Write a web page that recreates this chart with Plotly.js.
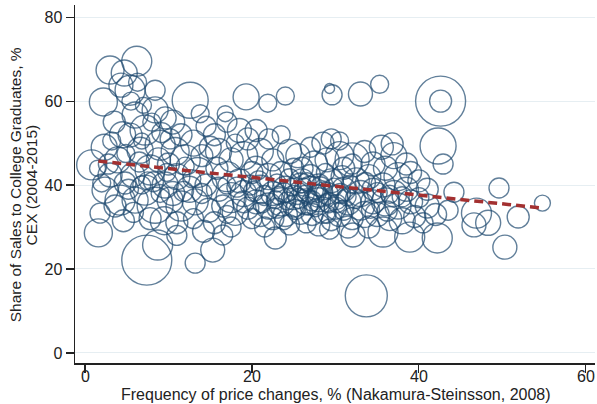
<!DOCTYPE html>
<html><head><meta charset="utf-8">
<script src="https://cdn.plot.ly/plotly-3.0.1.min.js"></script>
<style>html,body{margin:0;padding:0;background:#fff}#chart{width:597px;height:404px}</style>
</head><body><div id="chart"></div>
<script>
// Frequency of price changes (%), share of sales to college graduates (%), weight (marker diameter, px)
const freq = [
0.8,2.3,2.4,3,4.2,1.8,3.9,4.8,1.6,3.0,4.7,4.3,2.2,3.5,4.5,2.8,4.9,3.6,2.0,4.6,3.2,1.5,
6.2,5.4,8.4,6.0,7.2,5.4,8.4,9.6,6.6,9,7.8,5.7,7.2,9.6,6,8.4,10.2,7.4,8.7,5.5,7,9.2,6.5,8.8,5.8,9.5,7.5,6.8,8,10,5.2,9.8,7.8,6.3,
12.6,10.5,11.5,13,14.5,10.8,12,14,11,13.5,12.5,10.5,14.5,11.5,13.2,14.8,11,13,11,13.2,14.2,12,10.2,13.8,15,
15.3,16.5,15.5,17,18.5,19.5,16,17.5,19,15.8,17,18.5,20,16,17.5,19,16.5,18,19.5,15.5,17.5,19.3,18,16.8,19.8,
21.9,24,20.5,22,23.5,21,22.5,24.5,20.5,22,23.5,25,21,22.5,24,20.5,22,23.5,25,21,22.5,24,22.8,21.5,24.5,20.8,23,24.5,25,23.2,
25.5,27,28.5,29.5,26,27.5,29,26,27,28,29.5,25.5,26.5,28,29,30,25.8,27.2,28.5,30,26.5,28,29.5,27,28.8,26.2,27.8,29.3,29.6,29.3,
30.5,32,32,31,33.5,34.5,30.8,32.5,34,31,33,34.5,31.5,33,34.5,30.5,32,33.5,35,31.5,32.1,34,33,35.3,33.7,30.5,
35.5,37,38.5,36,37.5,39,35.7,37,38.5,40,36,37.5,39,36.5,38,39.5,35.7,38.9,36.8,40,
42.6,42.6,42.3,42.9,44.2,49.6,54.8,46.9,46.6,48.3,51.9,50.3,42.2,41,42,43.5,41,40.5,
21.5,22.8,23.8,24.8,25.6,26.4,27.2,27.9,28.6,29.2,26.8,25.2,27.6,28.2,26.6,24.2,23,25.8,29.8,30.6,31.4,32.4,31.8,33.6,30.2,21.2,20.2,19,18.2,17,14,12.8,11.8,9,8.2,6.8,36.5,38,35,34.2,36.2,31,29,23.8,20,17
];
const share = [
44.8,49,38.8,42.4,36.4,33.3,46,40.5,28.6,67.4,66.7,63.8,59.8,55,52,45,47.5,35,40.5,31.5,50.5,44,
69.5,62.6,62.6,56.7,53.1,51.9,57.9,56,48.3,49.5,43.6,42.4,38.8,40,36.4,35.2,36.4,22.1,25.7,60,59,52.5,45.5,46,33.5,31.5,41,50.5,55,45,39,43,32,64.5,
60.2,55,52,50,54,48,46,47,42,43,39,38,40,35,36,34,31,32,28,21.4,29,44.5,51,57,49,
24.5,28.1,52,55,53,51,48,46,47,44,42,41,43,39,37,38,35,33.5,34.5,31,30,61,50,57,40,
59.5,61.2,53,51,52,48,46,48,44,42,43,44,39,38,39,36,35,36,37,33,32,33,27.4,30,30.5,41,40.5,41.5,35,37.5,
47,49,50,51,44,45,46,41,39,40,41,38,36,36.5,38,37,33.5,33,34,34.5,31,30.5,31.5,42.5,43,39.5,38,29.5,61.5,63,
47,46,45,44,48,45,42,41,42,39,38,39,36,35,36,33,32,33,33,30,28.1,30,61.7,64,13.6,50.5,
49,47,45,44,42,43,40,38,39,41,36,35,36,32,31.5,32.5,28.8,27.6,49.8,37,
60,60,49.3,45,38.3,39.3,35.7,33.3,30.5,31,32.4,25.2,27.4,35,33,34,39,31,
37.5,36.5,38.2,39.5,36.8,37.8,36.2,37.4,38.6,35.8,35,34.2,34.6,39.6,40.8,36.2,34.5,40.5,39.5,38,37.2,36.8,40.2,40.6,35.6,35.5,38.5,36,39.5,40,38,41.5,38.5,38,40.8,40,37.8,37.2,38.2,34.2,33.8,34,33,31.5,32,33
];
const weight = [
30,26,26,24,30,20,26,22,28,28,26,24,28,22,26,20,18,22,18,22,18,16,
30,30,20,26,30,24,26,22,26,30,30,24,30,26,26,36,26,50,30,18,16,20,20,24,20,28,18,16,18,22,20,18,22,18,
36,24,22,26,20,28,30,22,26,30,26,24,22,30,26,24,22,20,20,20,22,18,20,18,22,
24,20,22,20,24,22,26,24,28,22,30,24,22,24,30,26,22,26,22,22,20,26,18,16,20,
18,18,22,20,18,26,22,24,24,26,22,20,28,24,26,24,26,28,24,24,22,24,22,20,20,20,18,20,22,18,
24,20,22,20,22,26,24,24,26,22,24,22,26,24,22,24,24,22,26,22,20,22,20,20,18,18,18,20,20,10,
28,34,20,22,22,24,22,26,24,24,26,22,26,28,24,24,22,26,24,22,24,22,24,18,42,18,
24,26,22,24,28,22,24,26,24,22,28,26,24,24,26,22,30,30,22,20,
50,22,36,20,20,20,16,30,24,25,22,24,30,24,22,20,22,20,
20,18,20,18,20,18,20,22,18,20,18,20,18,20,18,18,20,20,18,20,18,20,18,20,18,18,20,22,20,18,20,18,20,18,20,18,18,20,20,18,20,20,18,18,20,18
];
// Linear fit
const fitX = [1.6, 54.8];
const fitY = [45.7, 34.5];

const xTicks = [0, 20, 40, 60];
const yTicks = [0, 20, 40, 60, 80];
const xTitle = 'Frequency of price changes, % (Nakamura-Steinsson, 2008)';
const yTitle1 = 'Share of Sales to College Graduates, %';
const yTitle2 = 'CEX (2004-2015)';

const navy = '#1f4a70';
const traces = [
  {
    type: 'scatter', mode: 'markers', x: freq, y: share,
    marker: { size: weight, sizemode: 'diameter', sizeref: 1,
      color: 'rgba(0,0,0,0)', line: { color: navy, width: 1.4 } },
    hoverinfo: 'x+y', showlegend: false
  },
  {
    type: 'scatter', mode: 'lines', x: fitX, y: fitY,
    line: { color: '#a33030', width: 3.5, dash: '9px,5px' },
    showlegend: false
  }
];

const fam = '"Liberation Sans", Arial, sans-serif';
const annotations = [
  { text: xTitle, xref: 'paper', yref: 'paper', x: 0.501, y: -0.087,
    xanchor: 'center', yanchor: 'middle', showarrow: false, font: { size: 16 } },
  { text: yTitle1, xref: 'paper', yref: 'paper', x: -0.115, y: 0.497, textangle: -90,
    xanchor: 'center', yanchor: 'middle', showarrow: false, font: { size: 15.5 } },
  { text: yTitle2, xref: 'paper', yref: 'paper', x: -0.084, y: 0.497, textangle: -90,
    xanchor: 'center', yanchor: 'middle', showarrow: false, font: { size: 15.5 } }
].concat(xTicks.map(v => ({
  text: String(v), xref: 'x', yref: 'paper', x: v, y: -0.039,
  xanchor: 'center', yanchor: 'middle', showarrow: false, font: { size: 16 }
})));

const layout = {
  width: 597, height: 404,
  margin: { l: 75, r: 2, t: 5, b: 41 },
  paper_bgcolor: '#fff', plot_bgcolor: '#fff',
  font: { family: fam, color: '#222', size: 16 },
  showlegend: false,
  xaxis: {
    range: [-1.2, 61.1], tickvals: xTicks, showticklabels: false,
    ticks: 'outside', ticklen: 8, tickwidth: 1.2, tickcolor: '#222',
    showline: true, linecolor: '#222', linewidth: 1.5,
    showgrid: false, zeroline: false
  },
  yaxis: {
    range: [-2.4, 82.9], tickvals: yTicks, ticktext: yTicks.map(String),
    ticks: 'outside', ticklen: 8, tickwidth: 1.2, tickcolor: '#222',
    showline: true, linecolor: '#222', linewidth: 1.5,
    showgrid: true, gridcolor: '#e6eef2', gridwidth: 1, zeroline: false,
    tickfont: { size: 16 }, tickangle: 0
  },
  annotations: annotations
};
Plotly.newPlot('chart', traces, layout, { displayModeBar: false, staticPlot: true });
</script></body></html>
